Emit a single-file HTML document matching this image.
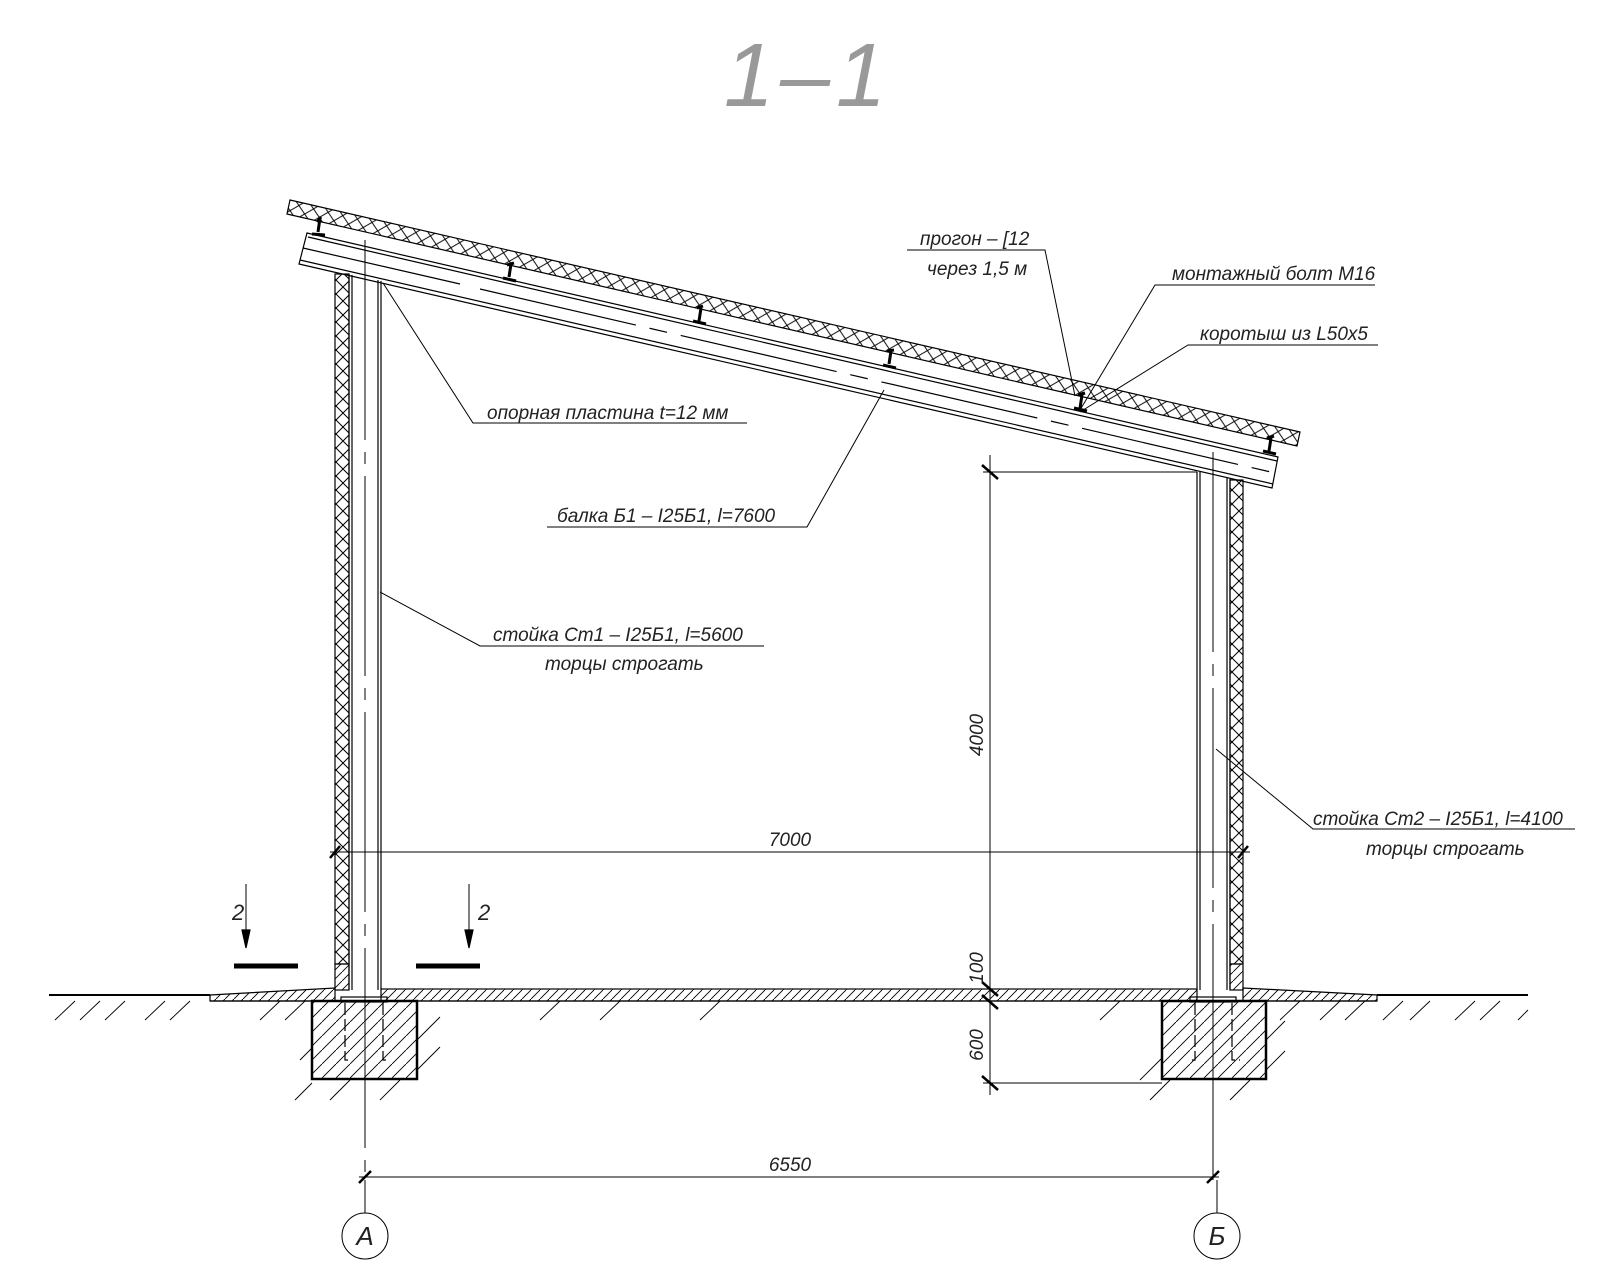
<!DOCTYPE html>
<html><head><meta charset="utf-8"><style>
html,body{margin:0;padding:0;background:#fff;}
svg{display:block;}
text{font-family:"Liberation Sans",sans-serif;font-style:italic;fill:#222;}
</style></head><body>
<svg width="1600" height="1280" viewBox="0 0 1600 1280" xmlns="http://www.w3.org/2000/svg">
<defs>
<pattern id="xh" width="14" height="14" patternUnits="userSpaceOnUse">
<path d="M0 0L14 14M14 0L0 14" stroke="#000" stroke-width="1" fill="none"/>
</pattern>
<pattern id="xhr" width="15" height="14" patternUnits="userSpaceOnUse" patternTransform="rotate(13)">
<path d="M0 0L15 14M15 0L0 14" stroke="#000" stroke-width="1" fill="none"/>
</pattern>
<pattern id="dg" width="9" height="9" patternUnits="userSpaceOnUse">
<path d="M0 9L9 0" stroke="#000" stroke-width="0.9"/>
</pattern>
<pattern id="dg2" width="14" height="14" patternUnits="userSpaceOnUse">
<path d="M0 14L14 0" stroke="#000" stroke-width="0.9"/>
</pattern>
</defs>

<text x="808" y="106" font-size="90" style="fill:#999" text-anchor="middle" letter-spacing="6">1–1</text>

<g stroke="#000" fill="none" stroke-width="1.2">
<polygon points="290,200 1300,432 1297,446 287,214" fill="url(#xhr)"/>
<polygon points="307,233 1278,457 1272,488 299,264" fill="#fff"/>
<line x1="308" y1="237" x2="1277" y2="461"/>
<line x1="300" y1="260" x2="1273" y2="484"/>
<line x1="303" y1="248" x2="460" y2="284"/>
<path d="M480 289 L1275 473" stroke-dasharray="160,14,18,14"/>
<g stroke-width="3">
<path d="M317 222 L321 217 M320 218 L318 232 M312 234 L325 235"/>
<path d="M507 265 L514 263 M511 264 L509 277 M503 278 L516 281"/>
<path d="M697 308 L703 306 M701 308 L699 321 M693 321 L706 324"/>
<path d="M887 351 L894 350 M891 351 L889 364 M883 365 L896 368"/>
<path d="M1078 395 L1085 393 M1082 395 L1080 408 M1074 408 L1087 411"/>
<path d="M1267 438 L1274 436 M1271 438 L1269 451 M1263 451 L1276 454"/>
</g>

<rect x="335" y="274" width="14" height="690" fill="url(#xh)"/>
<rect x="335" y="964" width="14" height="26" fill="url(#dg)"/>
<line x1="349" y1="274" x2="349" y2="990"/><line x1="352" y1="275" x2="352" y2="990"/>
<line x1="378" y1="280" x2="378" y2="990"/><line x1="381" y1="281" x2="381" y2="990"/>
<line x1="365" y1="240" x2="365" y2="1180" stroke-width="1" stroke-dasharray="200,12,12,12"/>
<rect x="1230" y="480" width="13" height="484" fill="url(#xh)"/>
<rect x="1230" y="964" width="13" height="26" fill="url(#dg)"/>
<line x1="1197" y1="472" x2="1197" y2="990"/><line x1="1200" y1="472" x2="1200" y2="990"/>
<line x1="1227" y1="478" x2="1227" y2="990"/><line x1="1230" y1="479" x2="1230" y2="990"/>
<line x1="1213" y1="452" x2="1213" y2="1180" stroke-width="1" stroke-dasharray="200,12,12,12"/>

<rect x="381" y="989" width="816" height="12" fill="url(#dg)"/>
<polygon points="210,995 335,988 335,1001 210,1001" fill="url(#dg)"/>
<polygon points="1243,988 1377,995 1377,1001 1243,1001" fill="url(#dg)"/>
<line x1="49" y1="995" x2="210" y2="995" stroke-width="2"/>
<line x1="1377" y1="995" x2="1528" y2="995" stroke-width="2"/>
<line x1="210" y1="1001" x2="1377" y2="1001"/>
<g stroke-width="0.9">
<path d="M55 1020 L75 1001 M80 1020 L100 1001 M105 1020 L125 1001 M145 1020 L165 1001 M170 1020 L190 1001 M260 1020 L280 1001 M285 1020 L305 1001"/>
<path d="M1320 1020 L1340 1001 M1345 1020 L1365 1001 M1383 1020 L1403 1001 M1410 1020 L1430 1001 M1455 1020 L1475 1001 M1480 1020 L1500 1001 M1518 1020 L1528 1010"/>
<path d="M1280 1020 L1300 1001 M540 1020 L560 1001 M600 1020 L620 1001 M700 1020 L720 1001 M1100 1020 L1120 1001"/>
</g>
<rect x="312" y="1001" width="105" height="78" fill="url(#dg2)" stroke-width="2.5"/>
<rect x="1162" y="1001" width="104" height="78" fill="url(#dg2)" stroke-width="2.5"/>
<path d="M295 1100 L312 1083 M300 1060 L312 1048 M417 1070 L440 1047 M417 1040 L440 1017 M330 1100 L350 1080 M380 1100 L400 1080" stroke-width="0.9"/>
<path d="M1150 1100 L1170 1080 M1230 1100 L1250 1080 M1266 1070 L1285 1051 M1266 1040 L1285 1021 M1140 1080 L1162 1058" stroke-width="0.9"/>
<path d="M345 1003 L345 1060 L352 1060 M383 1003 L383 1060 L390 1060" stroke-dasharray="12,4"/>
<path d="M1195 1003 L1195 1060 L1188 1060 M1232 1003 L1232 1060 L1240 1060" stroke-dasharray="12,4"/>
<rect x="341" y="997" width="46" height="5"/><rect x="1190" y="997" width="46" height="5"/>

<g stroke-width="1">
<line x1="330" y1="852" x2="1250" y2="852"/>
<line x1="359" y1="1177" x2="1219" y2="1177"/>
<line x1="990" y1="455" x2="990" y2="1095"/>
<line x1="983" y1="472" x2="1197" y2="472"/>
<line x1="983" y1="1083" x2="1162" y2="1083"/>
</g>
<g stroke-width="2.5">
<path d="M330 858 L340 846 M1238 858 L1248 846 M359 1183 L371 1171 M1207 1183 L1219 1171"/>
<path d="M982 465 L998 479 M982 982 L998 996 M982 995 L998 1009 M982 1076 L998 1090"/>
</g>
<circle cx="365" cy="1236" r="23" stroke-width="1"/>
<circle cx="1217" cy="1236" r="23" stroke-width="1"/>
<line x1="365" y1="1180" x2="365" y2="1213" stroke-width="1"/>
<line x1="1217" y1="1180" x2="1217" y2="1213" stroke-width="1"/>
<line x1="1213" y1="1080" x2="1213" y2="1180" stroke-width="1"/>

<line x1="246" y1="884" x2="246" y2="945" stroke-width="1"/>
<path d="M242 930 L246 948 L250 930Z" fill="#000"/>
<line x1="234" y1="966" x2="298" y2="966" stroke-width="5"/>
<line x1="469" y1="884" x2="469" y2="945" stroke-width="1"/>
<path d="M465 930 L469 948 L473 930Z" fill="#000"/>
<line x1="416" y1="966" x2="480" y2="966" stroke-width="5"/>

<g stroke-width="1">
<path d="M383 283 L473 423 L747 423"/>
<path d="M907 250 L1045 250 L1075 396"/>
<path d="M1080 410 L1155 285 L1375 285"/>
<path d="M1080 412 L1188 345 L1378 345"/>
<path d="M884 390 L807 527 L547 527"/>
<path d="M380 592 L480 646 L764 646"/>
<path d="M1216 749 L1313 829 L1575 829"/>
</g>
</g>

<g font-size="19">
<text x="487" y="419">опорная пластина t=12 мм</text>
<text x="920" y="245">прогон – [12</text>
<text x="927" y="275">через 1,5 м</text>
<text x="1172" y="280">монтажный болт М16</text>
<text x="1200" y="340">коротыш из L50x5</text>
<text x="557" y="522">балка Б1 – I25Б1, l=7600</text>
<text x="493" y="641">стойка Ст1 – I25Б1, l=5600</text>
<text x="545" y="670">торцы строгать</text>
<text x="1313" y="825">стойка Ст2 – I25Б1, l=4100</text>
<text x="1366" y="855">торцы строгать</text>
<text x="790" y="846" text-anchor="middle">7000</text>
<text x="790" y="1171" text-anchor="middle">6550</text>
<text x="232" y="920" font-size="22">2</text>
<text x="478" y="920" font-size="22">2</text>
<text x="365" y="1245" font-size="26" text-anchor="middle">А</text>
<text x="1217" y="1245" font-size="26" text-anchor="middle">Б</text>
<text transform="translate(983 735) rotate(-90)" text-anchor="middle">4000</text>
<text transform="translate(983 968) rotate(-90)" text-anchor="middle">100</text>
<text transform="translate(983 1045) rotate(-90)" text-anchor="middle">600</text>
</g>
</svg>
</body></html>
